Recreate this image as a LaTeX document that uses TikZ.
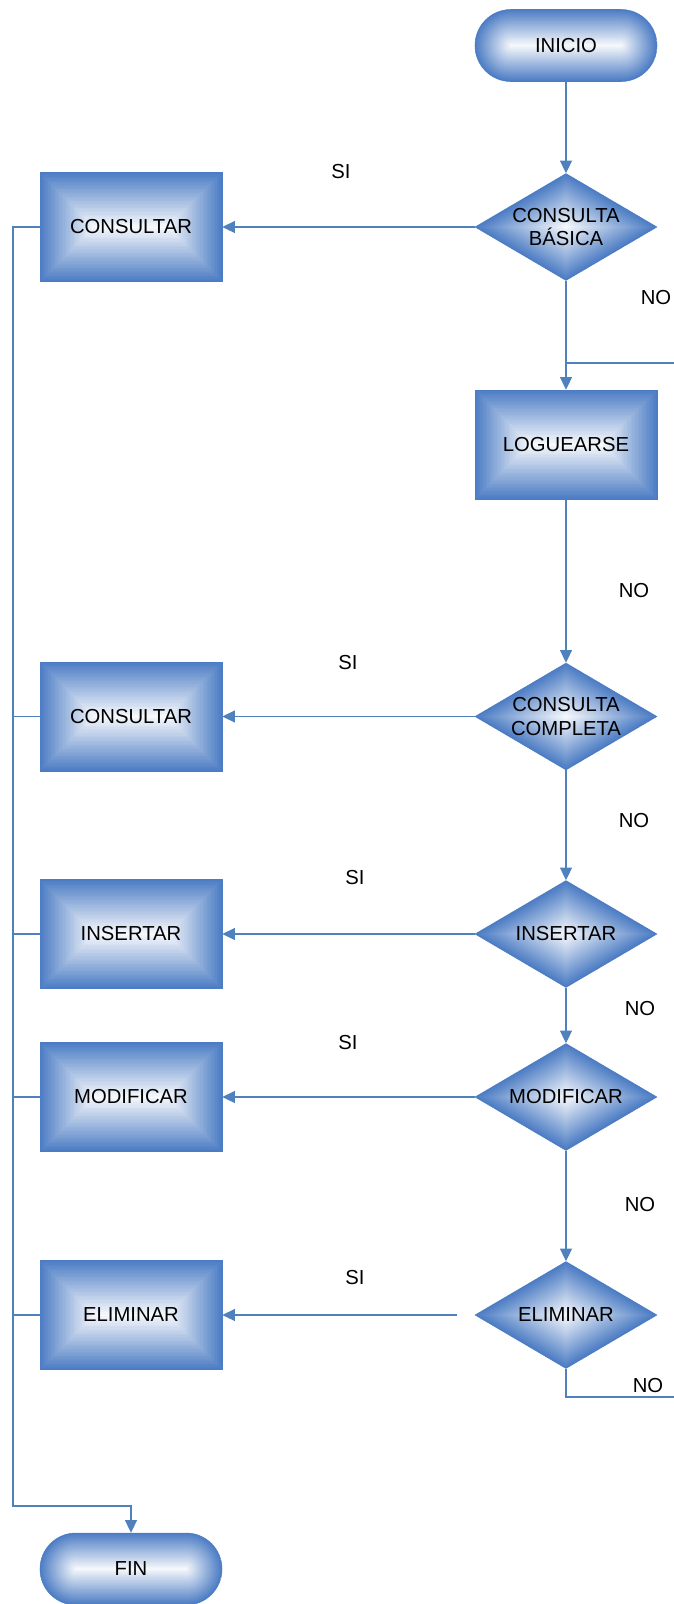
\documentclass[tikz,border=0pt]{standalone}
\usepackage{fontspec}
\setmainfont{Liberation Sans}
\usetikzlibrary{shapes.geometric,arrows.meta,calc}
\definecolor{lineblue}{RGB}{79,129,189}
\definecolor{fillblue}{RGB}{76,124,196}
\tikzset{
  rectgrad/.style={path picture={
    \foreach \gi in {0,...,40}{
      \pgfmathsetmacro\gd{\gi/40*40.9}
      \pgfmathtruncatemacro\gcol{100-\gi*2.4}
      \fill[fillblue!\gcol!white,sharp corners]
        ($(path picture bounding box.south west)+(\gd pt,\gd pt)$) rectangle
        ($(path picture bounding box.north east)+(-\gd pt,-\gd pt)$);
    }}},
  diamgrad/.style={path picture={
    \foreach \gi in {0,...,40}{
      \pgfmathsetmacro\gs{1-\gi/40}
      \pgfmathtruncatemacro\gcol{100-\gi*2.4}
      \fill[fillblue!\gcol!white,sharp corners]
        ($(path picture bounding box.center)!\gs!(path picture bounding box.north)$) --
        ($(path picture bounding box.center)!\gs!(path picture bounding box.east)$) --
        ($(path picture bounding box.center)!\gs!(path picture bounding box.south)$) --
        ($(path picture bounding box.center)!\gs!(path picture bounding box.west)$) -- cycle;
    }}},
  stadgrad/.style={path picture={
    \foreach \gi in {0,...,40}{
      \pgfmathsetmacro\gd{\gi/40*27}
      \pgfmathsetmacro\gr{max(26.9-\gd,0.01)}
      \pgfmathtruncatemacro\gcol{100-\gi*2.4}
      \fill[fillblue!\gcol!white,rounded corners=\gr pt]
        ($(path picture bounding box.south west)+(\gd pt,\gd pt)$) rectangle
        ($(path picture bounding box.north east)+(-\gd pt,-\gd pt)$);
    }}},
  txt/.style={font=\fontsize{15.2}{17.3}\selectfont, align=center, text=black},
  procbox/.style={rectangle, draw=fillblue, line width=0.4pt, inner sep=0pt,
    minimum width={182*0.75pt}, minimum height={109*0.75pt}, rectgrad, txt},
  decis/.style={diamond, draw=fillblue, line width=0.4pt, inner sep=0pt, aspect=1.7,
    minimum width={182*0.75pt}, minimum height={107*0.75pt}, diamgrad},
  termin/.style={rectangle, rounded corners={35.9*0.75pt}, draw=fillblue, line width=0.4pt, inner sep=0pt,
    minimum width={182*0.75pt}, minimum height={72*0.75pt}, stadgrad, txt},
  conn/.style={draw=lineblue, line width=0.8pt},
  arr/.style={conn, -{Triangle[length=9.5pt,width=9pt]}},
  lbl/.style={txt, inner sep=0pt},
}
\begin{document}
\begin{tikzpicture}[x=0.75pt,y=-0.75pt]
\useasboundingbox (0,0) rectangle (674,1604);
% right column
\node[termin] (ini) at (566,45.5) {INICIO};
\node[decis, label={[txt]center:CONSULTA\\BÁSICA}] (d1) at (566,227) {};
\node[procbox] (log) at (566,444.5) {LOGUEARSE};
\node[decis, label={[txt]center:CONSULTA\\COMPLETA}] (d2) at (566,716.5) {};
\node[decis, label={[txt]center:INSERTAR}] (d3) at (566,934) {};
\node[decis, label={[txt]center:MODIFICAR}] (d4) at (566,1097) {};
\node[decis, label={[txt]center:ELIMINAR}] (d5) at (566,1315) {};
% left column
\node[procbox] (c1) at (131,227) {CONSULTAR};
\node[procbox] (c2) at (131,716.5) {CONSULTAR};
\node[procbox] (c3) at (131,934) {INSERTAR};
\node[procbox] (c4) at (131,1097) {MODIFICAR};
\node[procbox] (c5) at (131,1315) {ELIMINAR};
\node[termin] (fin) at (131,1569) {FIN};
% labels
\node[lbl] (si1) at (341,172) {SI};
\node[lbl] (si2) at (348,663) {SI};
\node[lbl] (si3) at (355,878) {SI};
\node[lbl] (si4) at (348,1043) {SI};
\node[lbl] (si5) at (355,1278) {SI};
\node[lbl] (no1) at (656,298) {NO};
\node[lbl] (no2) at (634,591) {NO};
\node[lbl] (no3) at (634,821) {NO};
\node[lbl] (no4) at (640,1009) {NO};
\node[lbl] (no5) at (640,1205) {NO};
\node[lbl] (no6) at (648,1386) {NO};
% coordinates
\coordinate (noA) at (674,363);
\coordinate (noB) at (674,1397);
\coordinate (e5) at (457,1315);
\coordinate (bus) at (13,1506);
% connectors right column
\draw[arr] (ini) -- (d1);
\draw[arr] (d1) -- (log);
\draw[conn] (noA) -- (noA -| d1);
\draw[arr] (log) -- (d2);
\draw[arr] (d2) -- (d3);
\draw[arr] (d3) -- (d4);
\draw[arr] (d4) -- (d5);
\draw[conn] (d5.south) |- (noB);
% yes branches
\draw[arr] (d1.west) -- (c1.east);
\draw[arr] (d2.west) -- (c2.east);
\draw[arr] (d3.west) -- (c3.east);
\draw[arr] (d4.west) -- (c4.east);
\draw[arr] (e5) -- (c5.east);
% left bus to FIN
\draw[arr] (c1.west) -| (bus) -| (fin.north);
\draw[conn] (c2.west) -- (c2.west -| bus);
\draw[conn] (c3.west) -- (c3.west -| bus);
\draw[conn] (c4.west) -- (c4.west -| bus);
\draw[conn] (c5.west) -- (c5.west -| bus);
\end{tikzpicture}
\end{document}
